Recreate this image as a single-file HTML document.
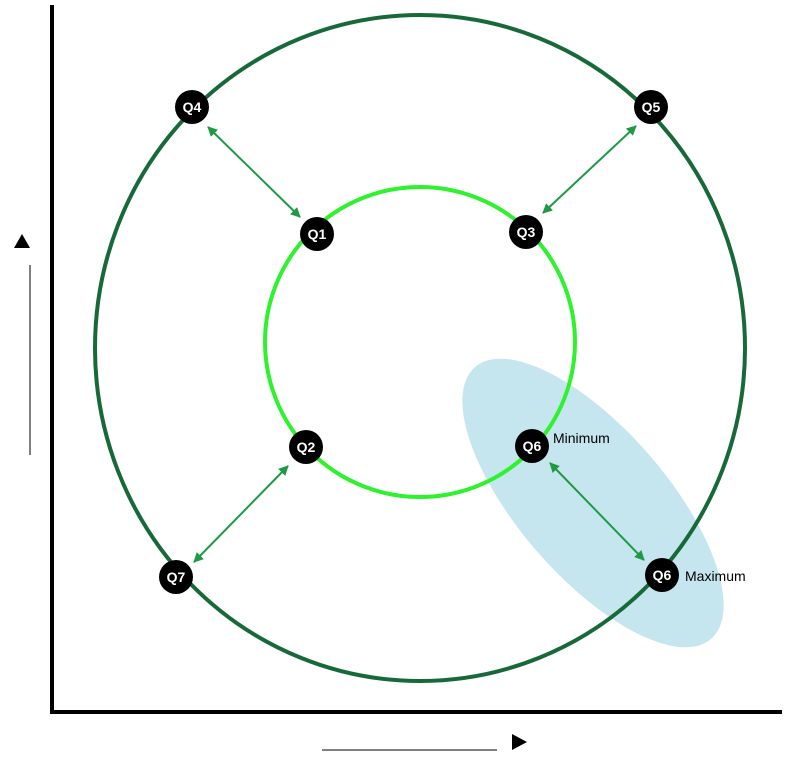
<!DOCTYPE html>
<html><head><meta charset="utf-8"><style>body{margin:0;background:#fff}svg{display:block}</style></head><body>
<svg width="792" height="765" viewBox="0 0 792 765" xmlns="http://www.w3.org/2000/svg" font-family="Liberation Sans, sans-serif">
<defs>
<marker id="a" viewBox="0 0 10 10" refX="9" refY="5" markerWidth="5" markerHeight="5" orient="auto-start-reverse"><path d="M0,0L10,5L0,10z" fill="#1e9a45"/></marker>
</defs>
<ellipse cx="593" cy="503" rx="180" ry="74" transform="rotate(49 593 503)" fill="#c5e6ef"/>
<ellipse cx="420" cy="348" rx="325" ry="333" fill="none" stroke="#17693a" stroke-width="4"/>
<circle cx="420" cy="342" r="155" fill="none" stroke="#2df22d" stroke-width="4"/>
<line x1="52" y1="5" x2="52" y2="713" stroke="#000" stroke-width="4"/>
<line x1="50" y1="712" x2="782" y2="712" stroke="#000" stroke-width="4"/>
<line x1="30" y1="265" x2="30" y2="455" stroke="#000" stroke-width="1"/>
<line x1="322" y1="750" x2="497" y2="750" stroke="#000" stroke-width="1"/>
<path d="M14,248L22,234L30,248z" fill="#000"/>
<path d="M512,734L527,742L512,750z" fill="#000"/>
<g stroke="#1e9a45" stroke-width="2" marker-start="url(#a)" marker-end="url(#a)">
<line x1="208" y1="127" x2="300" y2="217"/>
<line x1="636" y1="126" x2="543" y2="213"/>
<line x1="288" y1="466" x2="194" y2="562"/>
<line x1="550" y1="463" x2="644" y2="560"/>
</g>
<g font-weight="bold" font-size="14" fill="#fff" text-anchor="middle">
<circle cx="192" cy="107" r="17" fill="#000"/><text x="192" y="112">Q4</text>
<circle cx="651" cy="107" r="17" fill="#000"/><text x="651" y="112">Q5</text>
<circle cx="317" cy="234" r="17" fill="#000"/><text x="317" y="239">Q1</text>
<circle cx="526" cy="232" r="17" fill="#000"/><text x="526" y="237">Q3</text>
<circle cx="306" cy="447" r="17" fill="#000"/><text x="306" y="452">Q2</text>
<circle cx="532" cy="446" r="17" fill="#000"/><text x="532" y="451">Q6</text>
<circle cx="176" cy="577" r="17" fill="#000"/><text x="176" y="582">Q7</text>
<circle cx="662" cy="575" r="17" fill="#000"/><text x="662" y="580">Q6</text>
</g>
<text x="553" y="443" font-size="14" fill="#000">Minimum</text>
<text x="685" y="581" font-size="14" fill="#000">Maximum</text>
</svg>
</body></html>
